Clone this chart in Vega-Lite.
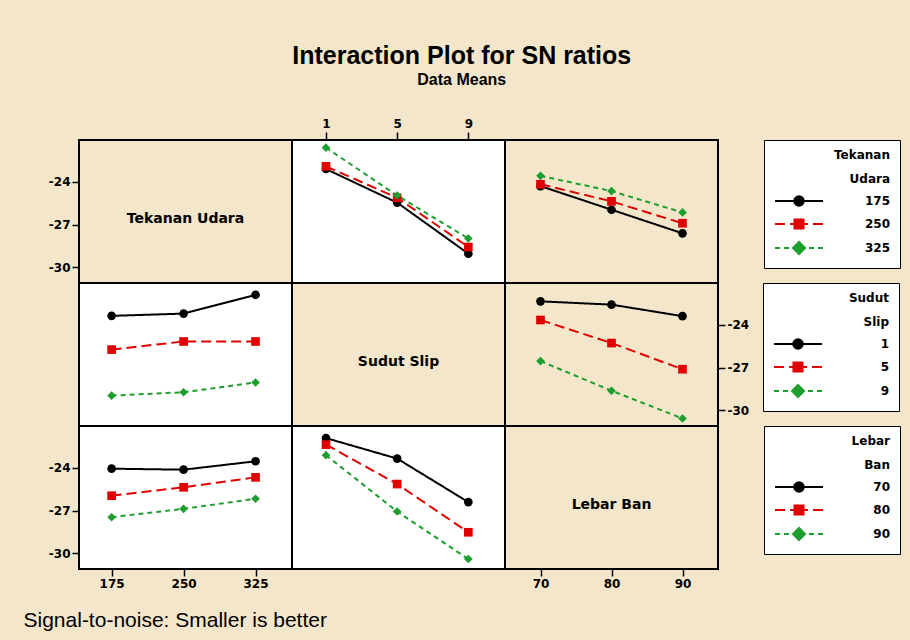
{
  "$schema": "https://vega.github.io/schema/vega-lite/v6.json",
  "padding": {"left": 22, "top": 44, "right": 11, "bottom": 10},
  "title": {"text": "Interaction Plot for SN ratios", "subtitle": "Data Means", "anchor": "middle", "font": "Liberation Sans", "fontSize": 25, "fontWeight": "bold", "color": "black", "subtitleFont": "Liberation Sans", "subtitleFontSize": 16, "subtitleFontWeight": "bold", "subtitleColor": "black", "subtitlePadding": 3, "offset": 28},
  "datasets": {
    "tu_ss": [
      {"x": 1, "g": "175", "sn": -23.09}, {"x": 5, "g": "175", "sn": -25.45}, {"x": 9, "g": "175", "sn": -29.04},
      {"x": 1, "g": "250", "sn": -22.9}, {"x": 5, "g": "250", "sn": -25.11}, {"x": 9, "g": "250", "sn": -28.57},
      {"x": 1, "g": "325", "sn": -21.59}, {"x": 5, "g": "325", "sn": -24.95}, {"x": 9, "g": "325", "sn": -27.97}
    ],
    "tu_lb": [
      {"x": 70, "g": "175", "sn": -24.29}, {"x": 80, "g": "175", "sn": -25.95}, {"x": 90, "g": "175", "sn": -27.61},
      {"x": 70, "g": "250", "sn": -24.16}, {"x": 80, "g": "250", "sn": -25.36}, {"x": 90, "g": "250", "sn": -26.9},
      {"x": 70, "g": "325", "sn": -23.57}, {"x": 80, "g": "325", "sn": -24.64}, {"x": 90, "g": "325", "sn": -26.14}
    ],
    "ss_tu": [
      {"x": 175, "g": "1", "sn": -23.36}, {"x": 250, "g": "1", "sn": -23.2}, {"x": 325, "g": "1", "sn": -21.88},
      {"x": 175, "g": "5", "sn": -25.73}, {"x": 250, "g": "5", "sn": -25.16}, {"x": 325, "g": "5", "sn": -25.16},
      {"x": 175, "g": "9", "sn": -28.96}, {"x": 250, "g": "9", "sn": -28.73}, {"x": 325, "g": "9", "sn": -28.04}
    ],
    "ss_lb": [
      {"x": 70, "g": "1", "sn": -22.34}, {"x": 80, "g": "1", "sn": -22.57}, {"x": 90, "g": "1", "sn": -23.38},
      {"x": 70, "g": "5", "sn": -23.65}, {"x": 80, "g": "5", "sn": -25.27}, {"x": 90, "g": "5", "sn": -27.11},
      {"x": 70, "g": "9", "sn": -26.54}, {"x": 80, "g": "9", "sn": -28.62}, {"x": 90, "g": "9", "sn": -30.57}
    ],
    "lb_tu": [
      {"x": 175, "g": "70", "sn": -24.05}, {"x": 250, "g": "70", "sn": -24.12}, {"x": 325, "g": "70", "sn": -23.53},
      {"x": 175, "g": "80", "sn": -25.95}, {"x": 250, "g": "80", "sn": -25.36}, {"x": 325, "g": "80", "sn": -24.66},
      {"x": 175, "g": "90", "sn": -27.46}, {"x": 250, "g": "90", "sn": -26.87}, {"x": 325, "g": "90", "sn": -26.16}
    ],
    "lb_ss": [
      {"x": 1, "g": "70", "sn": -21.9}, {"x": 5, "g": "70", "sn": -23.34}, {"x": 9, "g": "70", "sn": -26.4},
      {"x": 1, "g": "80", "sn": -22.36}, {"x": 5, "g": "80", "sn": -25.13}, {"x": 9, "g": "80", "sn": -28.52},
      {"x": 1, "g": "90", "sn": -23.1}, {"x": 5, "g": "90", "sn": -27.06}, {"x": 9, "g": "90", "sn": -30.4}
    ]
  },
  "columns": 3,
  "spacing": 0,
  "bounds": "flush",
  "resolve": {"scale": {"color": "independent", "shape": "independent", "strokeDash": "independent", "fill": "independent", "stroke": "independent"}},
  "concat": [
    {
      "width": 213, "height": 143,
      "view": {"fill": "#F3E6CA", "stroke": "black", "strokeWidth": 2},
      "layer": [
        {"data": {"name": "tu_ss"}, "mark": {"type": "point", "opacity": 0},
         "encoding": {"y": {"field": "sn", "type": "quantitative", "scale": {"domain": [-31.1, -21.05], "nice": false, "zero": false}, "axis": {"values": [-24, -27, -30], "title": null, "orient": "left"}}}},
        {"data": {"values": [{"label": "Tekanan Udara"}]}, "mark": {"type": "text", "font": "DejaVu Sans", "fontWeight": "bold", "fontSize": 14, "dy": 7, "color": "black"},
         "encoding": {"text": {"field": "label", "type": "nominal"}}}
      ]
    },
    {
      "width": 213, "height": 143,
      "data": {"name": "tu_ss"},
      "encoding": {
        "x": {"field": "x", "type": "quantitative", "scale": {"domain": [-0.91, 11.06], "nice": false, "zero": false}, "axis": {"orient": "top", "values": [1, 5, 9], "title": null, "tickSize": 8}},
        "y": {"field": "sn", "type": "quantitative", "scale": {"domain": [-31.1, -21.05], "nice": false, "zero": false}, "axis": null},
        "color": {"field": "g", "type": "nominal", "scale": {"range": ["#000000", "#E00000", "#1E9E2E"]}, "legend": null}
      },
      "layer": [
        {"mark": {"type": "line", "strokeWidth": 2}, "encoding": {"strokeDash": {"field": "g", "type": "nominal", "scale": {"range": [[1, 0], [10, 5], [5, 4]]}, "legend": null}}},
        {"mark": {"type": "point", "filled": true, "size": 75, "opacity": 1}, "encoding": {"shape": {"field": "g", "type": "nominal", "scale": {"range": ["circle", "square", "diamond"]}, "legend": null}}}
      ]
    },
    {
      "width": 213, "height": 143,
      "resolve": {"scale": {"shape": "independent", "fill": "independent", "stroke": "independent"}},
      "layer": [
        {
          "data": {"name": "tu_lb"},
          "encoding": {
            "x": {"field": "x", "type": "quantitative", "scale": {"domain": [65, 95], "nice": false, "zero": false}, "axis": null},
            "y": {"field": "sn", "type": "quantitative", "scale": {"domain": [-31.1, -21.05], "nice": false, "zero": false}, "axis": null},
            "color": {"field": "g", "type": "nominal", "scale": {"range": ["#000000", "#E00000", "#1E9E2E"]}, "legend": null}
          },
          "layer": [
            {"mark": {"type": "line", "strokeWidth": 2}, "encoding": {"strokeDash": {"field": "g", "type": "nominal", "scale": {"range": [[1, 0], [10, 5], [5, 4]]}, "legend": null}}},
            {"mark": {"type": "point", "filled": true, "size": 75, "opacity": 1}, "encoding": {"shape": {"field": "g", "type": "nominal", "scale": {"range": ["circle", "square", "diamond"]}, "legend": null}}}
          ]
        },
        {
          "data": {"values": [{"lvl": "175"}, {"lvl": "250"}, {"lvl": "325"}]},
          "mark": {"type": "point", "filled": true, "opacity": 0},
          "encoding": {
            "fill": {"field": "lvl", "type": "nominal", "scale": {"range": ["#000000", "#E00000", "#1E9E2E"]}, "legend": {"title": ["Tekanan", "Udara"], "orient": "right", "offset": 46}},
            "stroke": {"field": "lvl", "type": "nominal", "scale": {"range": ["#000000", "#E00000", "#1E9E2E"]}, "legend": {"title": ["Tekanan", "Udara"], "orient": "right", "offset": 46}},
            "shape": {"field": "lvl", "type": "nominal", "scale": {"range": [
              "M-1,0H8.6M2.85,0A0.95,0.95 0 1,1 4.75,0A0.95,0.95 0 1,1 2.85,0Z",
              "M-1,0H1M2,0H2.9M4.7,0H5.6M6.6,0H8.6M2.9,-0.9H4.7V0.9H2.9Z",
              "M-1,0H0M0.8,0H1.8M5.8,0H6.8M7.6,0H8.6M3.8,-1.2L5,0L3.8,1.2L2.6,0Z"
            ]}, "legend": {"title": ["Tekanan", "Udara"], "orient": "right", "offset": 46}}
          }
        }
      ]
    },
    {
      "width": 213, "height": 143,
      "data": {"name": "ss_tu"},
      "encoding": {
        "x": {"field": "x", "type": "quantitative", "scale": {"domain": [141, 363], "nice": false, "zero": false}, "axis": null},
        "y": {"field": "sn", "type": "quantitative", "scale": {"domain": [-31.1, -21.05], "nice": false, "zero": false}, "axis": null},
        "color": {"field": "g", "type": "nominal", "scale": {"range": ["#000000", "#E00000", "#1E9E2E"]}, "legend": null}
      },
      "layer": [
        {"mark": {"type": "line", "strokeWidth": 2}, "encoding": {"strokeDash": {"field": "g", "type": "nominal", "scale": {"range": [[1, 0], [10, 5], [5, 4]]}, "legend": null}}},
        {"mark": {"type": "point", "filled": true, "size": 75, "opacity": 1}, "encoding": {"shape": {"field": "g", "type": "nominal", "scale": {"range": ["circle", "square", "diamond"]}, "legend": null}}}
      ]
    },
    {
      "width": 213, "height": 143,
      "view": {"fill": "#F3E6CA", "stroke": "black", "strokeWidth": 2},
      "data": {"values": [{"label": "Sudut Slip"}]},
      "mark": {"type": "text", "font": "DejaVu Sans", "fontWeight": "bold", "fontSize": 14, "dy": 7, "color": "black"},
      "encoding": {"text": {"field": "label", "type": "nominal"}}
    },
    {
      "width": 213, "height": 143,
      "resolve": {"scale": {"shape": "independent", "fill": "independent", "stroke": "independent"}},
      "layer": [
        {
          "data": {"name": "ss_lb"},
          "encoding": {
            "x": {"field": "x", "type": "quantitative", "scale": {"domain": [65, 95], "nice": false, "zero": false}, "axis": null},
            "y": {"field": "sn", "type": "quantitative", "scale": {"domain": [-31.1, -21.05], "nice": false, "zero": false}, "axis": {"orient": "right", "values": [-24, -27, -30], "title": null}},
            "color": {"field": "g", "type": "nominal", "scale": {"range": ["#000000", "#E00000", "#1E9E2E"]}, "legend": null}
          },
          "layer": [
            {"mark": {"type": "line", "strokeWidth": 2}, "encoding": {"strokeDash": {"field": "g", "type": "nominal", "scale": {"range": [[1, 0], [10, 5], [5, 4]]}, "legend": null}}},
            {"mark": {"type": "point", "filled": true, "size": 75, "opacity": 1}, "encoding": {"shape": {"field": "g", "type": "nominal", "scale": {"range": ["circle", "square", "diamond"]}, "legend": null}}}
          ]
        },
        {
          "data": {"values": [{"lvl": "1"}, {"lvl": "5"}, {"lvl": "9"}]},
          "mark": {"type": "point", "filled": true, "opacity": 0},
          "encoding": {
            "fill": {"field": "lvl", "type": "nominal", "scale": {"range": ["#000000", "#E00000", "#1E9E2E"]}, "legend": {"title": ["Sudut", "Slip"], "orient": "right", "offset": 14}},
            "stroke": {"field": "lvl", "type": "nominal", "scale": {"range": ["#000000", "#E00000", "#1E9E2E"]}, "legend": {"title": ["Sudut", "Slip"], "orient": "right", "offset": 14}},
            "shape": {"field": "lvl", "type": "nominal", "scale": {"range": [
              "M-1,0H8.6M2.85,0A0.95,0.95 0 1,1 4.75,0A0.95,0.95 0 1,1 2.85,0Z",
              "M-1,0H1M2,0H2.9M4.7,0H5.6M6.6,0H8.6M2.9,-0.9H4.7V0.9H2.9Z",
              "M-1,0H0M0.8,0H1.8M5.8,0H6.8M7.6,0H8.6M3.8,-1.2L5,0L3.8,1.2L2.6,0Z"
            ]}, "legend": {"title": ["Sudut", "Slip"], "orient": "right", "offset": 14}}
          }
        }
      ]
    },
    {
      "width": 213, "height": 143,
      "data": {"name": "lb_tu"},
      "encoding": {
        "x": {"field": "x", "type": "quantitative", "scale": {"domain": [141, 363], "nice": false, "zero": false}, "axis": {"values": [175, 250, 325], "title": "Signal-to-noise: Smaller is better", "titleFont": "Liberation Sans", "titleFontSize": 21, "titleFontWeight": "normal", "titleColor": "black", "titleAnchor": "start", "titleAlign": "left", "titleBaseline": "top", "titleX": -56, "titleY": 40}},
        "y": {"field": "sn", "type": "quantitative", "scale": {"domain": [-31.1, -21.05], "nice": false, "zero": false}, "axis": {"values": [-24, -27, -30], "title": null}},
        "color": {"field": "g", "type": "nominal", "scale": {"range": ["#000000", "#E00000", "#1E9E2E"]}, "legend": null}
      },
      "layer": [
        {"mark": {"type": "line", "strokeWidth": 2}, "encoding": {"strokeDash": {"field": "g", "type": "nominal", "scale": {"range": [[1, 0], [10, 5], [5, 4]]}, "legend": null}}},
        {"mark": {"type": "point", "filled": true, "size": 75, "opacity": 1}, "encoding": {"shape": {"field": "g", "type": "nominal", "scale": {"range": ["circle", "square", "diamond"]}, "legend": null}}}
      ]
    },
    {
      "width": 213, "height": 143,
      "data": {"name": "lb_ss"},
      "encoding": {
        "x": {"field": "x", "type": "quantitative", "scale": {"domain": [-0.91, 11.06], "nice": false, "zero": false}, "axis": null},
        "y": {"field": "sn", "type": "quantitative", "scale": {"domain": [-31.1, -21.05], "nice": false, "zero": false}, "axis": null},
        "color": {"field": "g", "type": "nominal", "scale": {"range": ["#000000", "#E00000", "#1E9E2E"]}, "legend": null}
      },
      "layer": [
        {"mark": {"type": "line", "strokeWidth": 2}, "encoding": {"strokeDash": {"field": "g", "type": "nominal", "scale": {"range": [[1, 0], [10, 5], [5, 4]]}, "legend": null}}},
        {"mark": {"type": "point", "filled": true, "size": 75, "opacity": 1}, "encoding": {"shape": {"field": "g", "type": "nominal", "scale": {"range": ["circle", "square", "diamond"]}, "legend": null}}}
      ]
    },
    {
      "width": 213, "height": 143,
      "view": {"fill": "#F3E6CA", "stroke": "black", "strokeWidth": 2},
      "layer": [
        {"data": {"name": "ss_lb"}, "mark": {"type": "point", "opacity": 0},
         "encoding": {"x": {"field": "x", "type": "quantitative", "scale": {"domain": [65, 95], "nice": false, "zero": false}, "axis": {"values": [70, 80, 90], "title": null}}}},
        {"data": {"values": [{"label": "Lebar Ban"}]}, "mark": {"type": "text", "font": "DejaVu Sans", "fontWeight": "bold", "fontSize": 14, "dy": 7, "color": "black"},
         "encoding": {"text": {"field": "label", "type": "nominal"}}},
        {
          "data": {"values": [{"lvl": "70"}, {"lvl": "80"}, {"lvl": "90"}]},
          "mark": {"type": "point", "filled": true, "opacity": 0},
          "encoding": {
            "fill": {"field": "lvl", "type": "nominal", "scale": {"range": ["#000000", "#E00000", "#1E9E2E"]}, "legend": {"title": ["Lebar", "Ban"], "orient": "right", "offset": 46}},
            "stroke": {"field": "lvl", "type": "nominal", "scale": {"range": ["#000000", "#E00000", "#1E9E2E"]}, "legend": {"title": ["Lebar", "Ban"], "orient": "right", "offset": 46}},
            "shape": {"field": "lvl", "type": "nominal", "scale": {"range": [
              "M-1,0H8.6M2.85,0A0.95,0.95 0 1,1 4.75,0A0.95,0.95 0 1,1 2.85,0Z",
              "M-1,0H1M2,0H2.9M4.7,0H5.6M6.6,0H8.6M2.9,-0.9H4.7V0.9H2.9Z",
              "M-1,0H0M0.8,0H1.8M5.8,0H6.8M7.6,0H8.6M3.8,-1.2L5,0L3.8,1.2L2.6,0Z"
            ]}, "legend": {"title": ["Lebar", "Ban"], "orient": "right", "offset": 46}}
          }
        }
      ]
    }
  ],
  "config": {
    "background": "#F3E6CA",
    "font": "DejaVu Sans",
    "view": {"stroke": "black", "strokeWidth": 2, "fill": "white"},
    "axis": {"grid": false, "domain": false, "labelFont": "DejaVu Sans", "labelFontWeight": "bold", "labelFontSize": 12, "labelColor": "black", "tickColor": "black", "tickWidth": 1.5, "tickSize": 7, "labelPadding": 2, "labelExpr": "replace(datum.label, '\u2212', '-')"},
    "legend": {
      "titleFont": "DejaVu Sans", "titleFontSize": 12, "titleFontWeight": "bold", "titleColor": "black", "titleAlign": "right", "titleAnchor": "end", "titleLineHeight": 24, "titlePadding": 9,
      "labelFont": "DejaVu Sans", "labelFontSize": 12, "labelFontWeight": "bold", "labelColor": "black", "labelAlign": "right", "labelOffset": 104,
      "symbolSize": 100, "symbolStrokeWidth": 2, "symbolOpacity": 1,
      "rowPadding": 5, "padding": 10, "strokeColor": "black", "fillColor": "white"
    }
  }
}
